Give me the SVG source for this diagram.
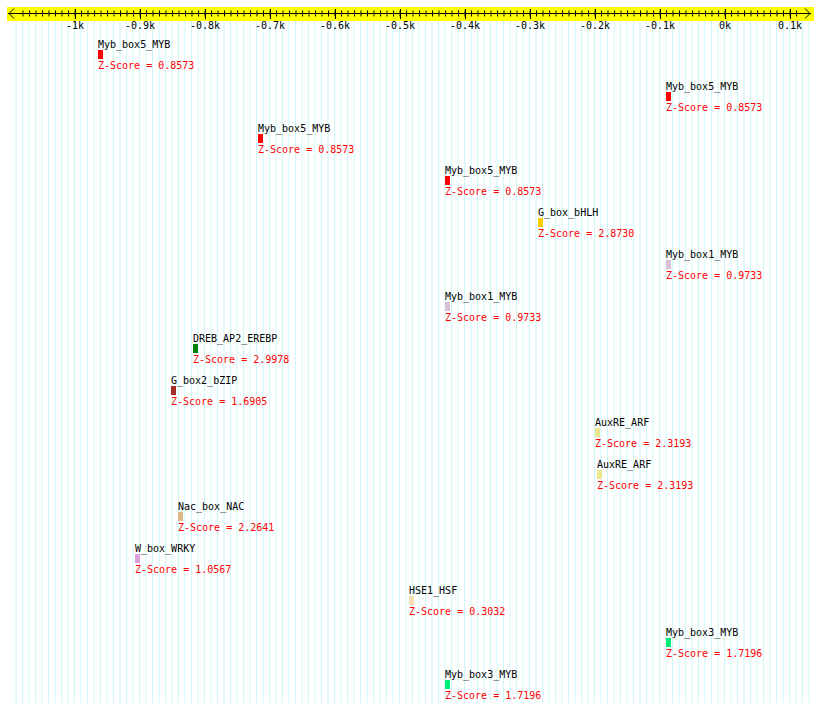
<svg xmlns="http://www.w3.org/2000/svg" width="820" height="713" viewBox="0 0 820 713">
<style>
text{font-family:"DejaVu Sans Mono","Liberation Mono",monospace;font-size:10px}
.lbl{fill:#000}
.z{fill:#ff0000}
.tk{text-anchor:middle;fill:#000}
.ax{stroke:#000;stroke-width:1;fill:none}
</style>
<defs>
<pattern id="grid" patternUnits="userSpaceOnUse" x="724" y="0" width="6.5" height="10">
<rect x="0" y="0" width="1" height="10" fill="#ccf7f7"/>
</pattern>
<pattern id="minor" patternUnits="userSpaceOnUse" x="724.5" y="0" width="6.5" height="30">
<rect x="0" y="10.5" width="1" height="6" fill="#000"/>
</pattern>
</defs>
<rect width="820" height="713" fill="#fff"/>
<rect x="10" y="21" width="801" height="682" fill="url(#grid)"/>
<g id="ruler">
<rect x="7" y="7" width="807" height="14" fill="#ffff00"/>
<rect x="22" y="0" width="778" height="30" fill="url(#minor)"/>
<line class="ax" x1="8" y1="13.5" x2="811" y2="13.5"/>
<polyline class="ax" points="14,8.5 9,13.5 14,18.5"/>
<polyline class="ax" points="805,8.5 810,13.5 805,18.5"/>
<g class="ax">
<line x1="75.5" y1="9" x2="75.5" y2="19"/>
<line x1="140.5" y1="9" x2="140.5" y2="19"/>
<line x1="205.5" y1="9" x2="205.5" y2="19"/>
<line x1="270.5" y1="9" x2="270.5" y2="19"/>
<line x1="335.5" y1="9" x2="335.5" y2="19"/>
<line x1="400.5" y1="9" x2="400.5" y2="19"/>
<line x1="465.5" y1="9" x2="465.5" y2="19"/>
<line x1="530.5" y1="9" x2="530.5" y2="19"/>
<line x1="595.5" y1="9" x2="595.5" y2="19"/>
<line x1="660.5" y1="9" x2="660.5" y2="19"/>
<line x1="725.5" y1="9" x2="725.5" y2="19"/>
<line x1="790.5" y1="9" x2="790.5" y2="19"/>
</g>
<text class="tk" x="75" y="28.5">-1k</text>
<text class="tk" x="140" y="28.5">-0.9k</text>
<text class="tk" x="205" y="28.5">-0.8k</text>
<text class="tk" x="270" y="28.5">-0.7k</text>
<text class="tk" x="335" y="28.5">-0.6k</text>
<text class="tk" x="400" y="28.5">-0.5k</text>
<text class="tk" x="465" y="28.5">-0.4k</text>
<text class="tk" x="530" y="28.5">-0.3k</text>
<text class="tk" x="595" y="28.5">-0.2k</text>
<text class="tk" x="660" y="28.5">-0.1k</text>
<text class="tk" x="725" y="28.5">0k</text>
<text class="tk" x="790" y="28.5">0.1k</text>
</g>
<g id="f1"><text class="lbl" x="98" y="48">Myb_box5_MYB</text><rect x="98" y="50" width="5" height="9" fill="#ff0000"/><text class="z" x="98" y="69">Z-Score = 0.8573</text></g>
<g id="f2"><text class="lbl" x="666" y="90">Myb_box5_MYB</text><rect x="666" y="92" width="5" height="9" fill="#ff0000"/><text class="z" x="666" y="111">Z-Score = 0.8573</text></g>
<g id="f3"><text class="lbl" x="258" y="132">Myb_box5_MYB</text><rect x="258" y="134" width="5" height="9" fill="#ff0000"/><text class="z" x="258" y="153">Z-Score = 0.8573</text></g>
<g id="f4"><text class="lbl" x="445" y="174">Myb_box5_MYB</text><rect x="445" y="176" width="5" height="9" fill="#ff0000"/><text class="z" x="445" y="195">Z-Score = 0.8573</text></g>
<g id="f5"><text class="lbl" x="538" y="216">G_box_bHLH</text><rect x="538" y="218" width="5" height="9" fill="#ffcc00"/><text class="z" x="538" y="237">Z-Score = 2.8730</text></g>
<g id="f6"><text class="lbl" x="666" y="258">Myb_box1_MYB</text><rect x="666" y="260" width="5" height="9" fill="#d8bfd8"/><text class="z" x="666" y="279">Z-Score = 0.9733</text></g>
<g id="f7"><text class="lbl" x="445" y="300">Myb_box1_MYB</text><rect x="445" y="302" width="5" height="9" fill="#d8bfd8"/><text class="z" x="445" y="321">Z-Score = 0.9733</text></g>
<g id="f8"><text class="lbl" x="193" y="342">DREB_AP2_EREBP</text><rect x="193" y="344" width="5" height="9" fill="#008000"/><text class="z" x="193" y="363">Z-Score = 2.9978</text></g>
<g id="f9"><text class="lbl" x="171" y="384">G_box2_bZIP</text><rect x="171" y="386" width="5" height="9" fill="#a52a2a"/><text class="z" x="171" y="405">Z-Score = 1.6905</text></g>
<g id="f10"><text class="lbl" x="595" y="426">AuxRE_ARF</text><rect x="595" y="428" width="5" height="9" fill="#f0e68c"/><text class="z" x="595" y="447">Z-Score = 2.3193</text></g>
<g id="f11"><text class="lbl" x="597" y="468">AuxRE_ARF</text><rect x="597" y="470" width="5" height="9" fill="#f0e68c"/><text class="z" x="597" y="489">Z-Score = 2.3193</text></g>
<g id="f12"><text class="lbl" x="178" y="510">Nac_box_NAC</text><rect x="178" y="512" width="5" height="9" fill="#deb887"/><text class="z" x="178" y="531">Z-Score = 2.2641</text></g>
<g id="f13"><text class="lbl" x="135" y="552">W_box_WRKY</text><rect x="135" y="554" width="5" height="9" fill="#dda0dd"/><text class="z" x="135" y="573">Z-Score = 1.0567</text></g>
<g id="f14"><text class="lbl" x="409" y="594">HSE1_HSF</text><rect x="409" y="596" width="5" height="9" fill="#f5deb3"/><text class="z" x="409" y="615">Z-Score = 0.3032</text></g>
<g id="f15"><text class="lbl" x="666" y="636">Myb_box3_MYB</text><rect x="666" y="638" width="5" height="9" fill="#00ee76"/><text class="z" x="666" y="657">Z-Score = 1.7196</text></g>
<g id="f16"><text class="lbl" x="445" y="678">Myb_box3_MYB</text><rect x="445" y="680" width="5" height="9" fill="#00ee76"/><text class="z" x="445" y="699">Z-Score = 1.7196</text></g>
<g id="connectors"/>
</svg>
